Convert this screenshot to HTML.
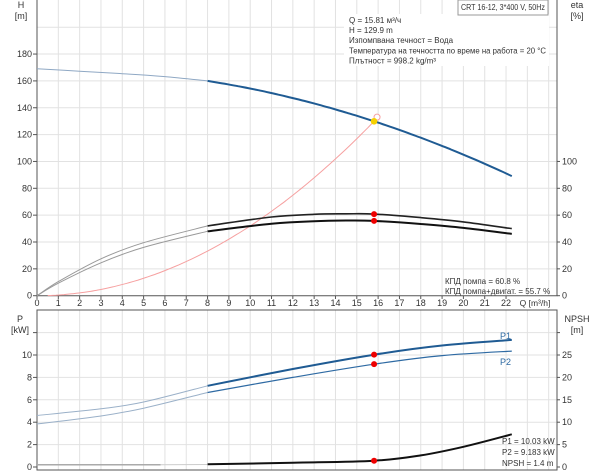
<!DOCTYPE html>
<html><head><meta charset="utf-8"><style>
html,body{margin:0;padding:0;background:#fff;}
svg{display:block;font-family:"Liberation Sans",sans-serif;}
</style></head><body>
<svg id="s" width="600" height="474" viewBox="0 0 600 474" xmlns="http://www.w3.org/2000/svg"></svg>
<script>
const S=document.getElementById('s');
let h='';
const X=q=>37+q*21.32;
const YH=v=>295.7-v*1.3425;
const YP=v=>467-v*11.2;
const YN=v=>467-v*4.48;
function cr(pts){
 let d='M'+pts[0][0].toFixed(1)+','+pts[0][1].toFixed(1);
 for(let i=0;i<pts.length-1;i++){
  const p0=pts[i-1]||pts[i],p1=pts[i],p2=pts[i+1],p3=pts[i+2]||p2;
  const c1=[p1[0]+(p2[0]-p0[0])/6,p1[1]+(p2[1]-p0[1])/6];
  const c2=[p2[0]-(p3[0]-p1[0])/6,p2[1]-(p3[1]-p1[1])/6];
  d+=' C'+c1.map(v=>v.toFixed(1))+' '+c2.map(v=>v.toFixed(1))+' '+p2.map(v=>v.toFixed(1));
 }
 return d;
}
function path(data,fy,col,w){
 const pts=data.map(p=>[X(p[0]),fy(p[1])]);
 h+=`<path d="${cr(pts)}" fill="none" stroke="${col}" stroke-width="${w}"/>`;
}
function fn(f,a,b,n){const r=[];for(let i=0;i<=n;i++){const q=a+(b-a)*i/n;r.push([q,f(q)]);}return r;}
for(let q=1;q<=24;q++) h+=`<line x1="${X(q)}" y1="0" x2="${X(q)}" y2="295.7" stroke="#e2e2e2" stroke-width="1"/>`;
for(let v=20;v<=200;v+=20) h+=`<line x1="37" y1="${YH(v)}" x2="557" y2="${YH(v)}" stroke="#e2e2e2" stroke-width="1"/>`;
for(let q=1;q<=24;q++) h+=`<line x1="${X(q)}" y1="310" x2="${X(q)}" y2="470" stroke="#e2e2e2"/>`;
for(let v=2;v<=12;v+=2) h+=`<line x1="37" y1="${YP(v)}" x2="557" y2="${YP(v)}" stroke="#e2e2e2"/>`;
h+=`<path d="M37,0 V295.7 H557 V0" fill="none" stroke="#555" stroke-width="1"/>`;
h+=`<rect x="37" y="310" width="520" height="160" fill="none" stroke="#555"/>`;
const T=(x,y,t,a,s,c)=>h+=`<text x="${x}" y="${y}" font-size="${s||9}" fill="${c||'#333'}" text-anchor="${a||'start'}">${t}</text>`;
for(let v=0;v<=180;v+=20){T(32,YH(v)+3,v,'end');h+=`<line x1="33" y1="${YH(v)}" x2="37" y2="${YH(v)}" stroke="#555"/>`;}
for(let v=0;v<=100;v+=20){T(562,YH(v)+3,v);h+=`<line x1="557" y1="${YH(v)}" x2="560" y2="${YH(v)}" stroke="#555"/>`;}
for(let q=0;q<=22;q++){T(X(q),306,q,'middle');h+=`<line x1="${X(q)}" y1="295.7" x2="${X(q)}" y2="299" stroke="#555"/>`;}
T(535,306,'Q [m³/h]','middle',8.5);
for(let v=0;v<=10;v+=2){T(32,YP(v)+3,v,'end');}
for(let v=0;v<=12;v+=2)h+=`<line x1="33" y1="${YP(v)}" x2="37" y2="${YP(v)}" stroke="#555"/>`;
for(let v=0;v<=25;v+=5){T(562,YN(v)+3,v);h+=`<line x1="557" y1="${YN(v)}" x2="560" y2="${YN(v)}" stroke="#555"/>`;}
h+=`<line x1="557" y1="${YN(30)}" x2="560" y2="${YN(30)}" stroke="#555"/>`;
T(21,8,'H','middle');T(21,19,'[m]','middle');
T(577,8,'eta','middle');T(577,19,'[%]','middle');
T(20,322,'P','middle');T(20,333,'[kW]','middle');
T(577,322,'NPSH','middle');T(577,333,'[m]','middle');
h+=`<rect x="344" y="14" width="205" height="52" fill="#fff"/>`;
['Q = 15.81 м³/ч','H = 129.9 m','Изпомпвана течност = Вода','Температура на течността по време на работа = 20 °C','Плътност = 998.2 kg/m³'].forEach((t,i)=>h+=`<text x="349" y="${23+i*10.1}" font-size="8" fill="#333" ${i==3?'textLength="197" lengthAdjust="spacingAndGlyphs"':''}>${t}</text>`);
h+=`<rect x="458" y="0" width="90" height="15" fill="#fff" stroke="#999"/>`;
h+=`<text x="503" y="10" font-size="8" fill="#333" text-anchor="middle" textLength="84" lengthAdjust="spacingAndGlyphs">CRT 16-12, 3*400 V, 50Hz</text>`;
path(fn(q=>129.9*(q/15.81)**2,0.5,15.9,40),YH,'#f6a0a0',1);
const Hf=q=>169+0.256*q-0.1726*q*q;
path([[0,169],[2,167.2],[4,165.4],[6,163.2],[8,160]],YH,'#8fa8c4',1);path(fn(Hf,8,22.27,30),YH,'#1f5b93',2);
const e1=[[0,0],[1,10.5],[3,27.5],[5,39.5],[8,52],[11,58.6],[13,60.6],[14.5,61],[15.81,60.8],[18,58.2],[20,55],[22.27,50]];
const e2=[[0,0],[1,9.3],[3,24.5],[5,36],[8,48],[11,53.6],[13,55.5],[14.5,56],[15.81,55.7],[18,53.4],[20,50.5],[22.27,46]];
path(e1.filter(p=>p[0]<=8),YH,'#999',1);path(e1.filter(p=>p[0]>=8),YH,'#222',1.6);
path(e2.filter(p=>p[0]<=8),YH,'#999',1);path(e2.filter(p=>p[0]>=8),YH,'#111',2);
const p1=[[0,4.6],[3,5.2],[5,5.8],[8,7.25],[12,8.75],[15.81,10.03],[19,10.85],[22.27,11.35]];
const p2=[[0,3.85],[3,4.55],[5,5.25],[8,6.65],[12,8.0],[15.81,9.183],[19,9.95],[22.27,10.35]];
path(p1.filter(p=>p[0]<=8),YP,'#9ab0c8',1);path(p1.filter(p=>p[0]>=8),YP,'#1f5b93',2);
path(p2.filter(p=>p[0]<=8),YP,'#9ab0c8',1);path(p2.filter(p=>p[0]>=8),YP,'#2e6aa3',1.2);
h+=`<line x1="${X(0)}" y1="${YN(0.5)}" x2="${X(5.8)}" y2="${YN(0.5)}" stroke="#aaa" stroke-width="1.5"/>`;
h+=`<line x1="${X(5.8)}" y1="${YN(0.5)}" x2="${X(8)}" y2="${YN(0.55)}" stroke="#ccc" stroke-width="1"/>`;
path([[8,0.6],[12,0.95],[15.81,1.4],[18,2.6],[20,4.5],[22.27,7.3]],YN,'#111',2);
const dot=(x,y,c,r)=>h+=`<circle cx="${x}" cy="${y}" r="${r||3}" fill="${c}"/>`;
h+=`<circle cx="${X(15.95)}" cy="${YH(133)}" r="3" fill="#fff" stroke="#f6a0a0"/>`;
dot(X(15.81),YH(129.9),'#f5d000',3.3);
dot(X(15.81),YH(60.8),'#e00');dot(X(15.81),YH(55.7),'#e00');
dot(X(15.81),YP(10.03),'#e00');dot(X(15.81),YP(9.183),'#e00');dot(X(15.81),YN(1.4),'#e00');
T(500,339,'P1','start',9,'#2e6aa3');T(500,365,'P2','start',9,'#2e6aa3');
T(445,284,'КПД помпа = 60.8 %','start',8);T(445,294,'КПД помпа+двигат. = 55.7 %','start',8);
T(502,444,'P1 = 10.03 kW','start',8);T(502,455,'P2 = 9.183 kW','start',8);T(502,466,'NPSH = 1.4 m','start',8);
S.innerHTML=h;
</script>
</body></html>
